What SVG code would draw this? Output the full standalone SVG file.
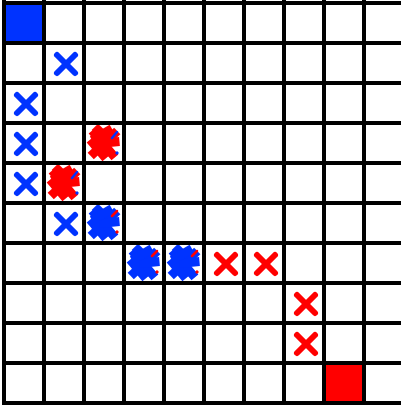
<svg xmlns="http://www.w3.org/2000/svg" xmlns:xlink="http://www.w3.org/1999/xlink" width="401" height="405" viewBox="0 0 401 405">
<style>
.grid line{stroke:#000;stroke-width:4}
.x line{stroke-width:6;stroke-linecap:round}
.blob line{stroke-width:9;stroke-linecap:square}
.thin{stroke-width:2.5;stroke-linecap:round}
.blue{stroke:#0033ff;fill:#0033ff}
.red{stroke:#ff0000;fill:#ff0000}
</style>
<defs>
<g id="xm" class="x"><line x1="13" y1="12" x2="31" y2="30"/><line x1="31" y1="12" x2="13" y2="30"/></g>
<g id="blob" class="blob"><line x1="11" y1="11" x2="28" y2="31"/><line x1="10" y1="30" x2="30" y2="11"/><line x1="9" y1="20" x2="19" y2="32"/><line x1="14" y1="7" x2="21" y2="14"/><line x1="20" y1="20" x2="31" y2="19"/><line x1="12" y1="15" x2="24" y2="8"/></g>
</defs>
<rect width="401" height="405" fill="#fff"/>
<g id="start"><rect x="4" y="3" width="40" height="40" class="blue"/></g>
<g id="goal"><rect x="324" y="363" width="40" height="40" class="red"/></g>
<g id="marks">
<use xlink:href="#xm" x="44" y="43" class="blue"/>
<use xlink:href="#xm" x="4" y="83" class="blue"/>
<use xlink:href="#xm" x="4" y="123" class="blue"/>
<use xlink:href="#xm" x="4" y="163" class="blue"/>
<use xlink:href="#xm" x="44" y="203" class="blue"/>
<use xlink:href="#xm" x="204" y="243" class="red"/>
<use xlink:href="#xm" x="244" y="243" class="red"/>
<use xlink:href="#xm" x="284" y="283" class="red"/>
<use xlink:href="#xm" x="284" y="323" class="red"/>
<g transform="translate(84,123)"><use xlink:href="#blob" class="red"/><line x1="28" y1="15" x2="33" y2="9" class="thin blue"/><circle cx="33" cy="30" r="1.2" class="blue"/></g>
<g transform="translate(44,163)"><use xlink:href="#blob" class="red"/><line x1="28" y1="15" x2="33" y2="9" class="thin blue"/><circle cx="33" cy="30" r="1.2" class="blue"/></g>
<g transform="translate(84,203)"><use xlink:href="#blob" class="blue"/><line x1="28" y1="13" x2="33" y2="8" class="thin red"/><circle cx="33" cy="29" r="1.2" class="red"/></g>
<g transform="translate(124,243)"><use xlink:href="#blob" class="blue"/><line x1="28" y1="13" x2="33" y2="8" class="thin red"/><circle cx="33" cy="29" r="1.2" class="red"/></g>
<g transform="translate(164,243)"><use xlink:href="#blob" class="blue"/><line x1="28" y1="13" x2="33" y2="8" class="thin red"/><circle cx="33" cy="29" r="1.2" class="red"/></g>
</g>
<g id="grid" class="grid">
<line x1="4" y1="0" x2="4" y2="405"/><line x1="44" y1="0" x2="44" y2="405"/><line x1="84" y1="0" x2="84" y2="405"/><line x1="124" y1="0" x2="124" y2="405"/><line x1="164" y1="0" x2="164" y2="405"/><line x1="204" y1="0" x2="204" y2="405"/><line x1="244" y1="0" x2="244" y2="405"/><line x1="284" y1="0" x2="284" y2="405"/><line x1="324" y1="0" x2="324" y2="405"/><line x1="364" y1="0" x2="364" y2="405"/>
<line x1="2" y1="3" x2="401" y2="3"/><line x1="2" y1="43" x2="401" y2="43"/><line x1="2" y1="83" x2="401" y2="83"/><line x1="2" y1="123" x2="401" y2="123"/><line x1="2" y1="163" x2="401" y2="163"/><line x1="2" y1="203" x2="401" y2="203"/><line x1="2" y1="243" x2="401" y2="243"/><line x1="2" y1="283" x2="401" y2="283"/><line x1="2" y1="323" x2="401" y2="323"/><line x1="2" y1="363" x2="401" y2="363"/><line x1="2" y1="403" x2="401" y2="403"/>
</g>
</svg>
